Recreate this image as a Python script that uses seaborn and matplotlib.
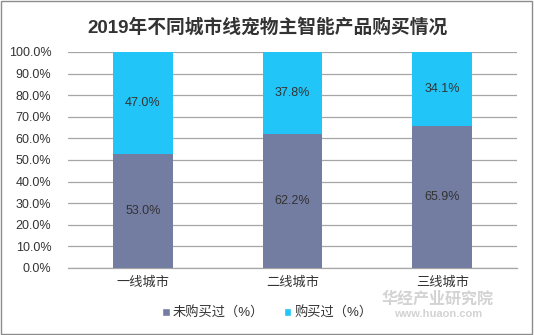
import matplotlib
matplotlib.use("Agg")
import matplotlib.pyplot as plt
import seaborn as sns
import pandas as pd
import numpy as np
from matplotlib.ticker import PercentFormatter
from matplotlib.patches import Patch

categories = ["一线城市", "二线城市", "三线城市"]
not_bought = [53.0, 62.2, 65.9]
bought = [47.0, 37.8, 34.1]
series_names = ["未购买过（%）", "购买过（%）"]
title = "2019年不同城市线宠物主智能产品购买情况"

sns.set_theme(style="white")
plt.rcParams['font.family'] = ['Liberation Sans', 'Noto Sans CJK SC', 'DejaVu Sans']

c_gray = "#737ca1"
c_cyan = "#22c5f7"

fig = plt.figure(figsize=(5.34, 3.35), dpi=100)
ax = fig.add_axes([68/534, 1-268/335, (517-68)/534, (268-52)/335])

totals = [a + b for a, b in zip(not_bought, bought)]
df = pd.DataFrame({"cat": categories, "nb": not_bought, "b": bought, "tot": totals})

sns.barplot(data=df, x="cat", y="tot", color=c_cyan, saturation=1, width=0.4, ax=ax,
            zorder=3, linewidth=0, edgecolor="none")
sns.barplot(data=df, x="cat", y="nb", color=c_gray, saturation=1, width=0.4, ax=ax,
            zorder=3, linewidth=0, edgecolor="none")

for i, (a, b) in enumerate(zip(not_bought, bought)):
    ax.text(i, a / 2, f"{a:.1f}%", ha="center", va="center", fontsize=9, color="#333333", zorder=4)
    ax.text(i, a + b / 2, f"{b:.1f}%", ha="center", va="center", fontsize=9, color="#333333", zorder=4)

ax.set_ylim(0, 100)
ax.set_xlim(-0.5, 2.5)
ax.set_yticks(np.arange(0, 101, 10))
ax.yaxis.set_major_formatter(PercentFormatter(decimals=1))
ax.yaxis.grid(True, color="#a6a6a6", linewidth=0.9, zorder=0)
ax.set_axisbelow(True)
for s in ["top", "right", "left"]:
    ax.spines[s].set_visible(False)
ax.spines["bottom"].set_color("#a6a6a6")
ax.spines["bottom"].set_linewidth(0.9)
ax.set_xlabel("")
ax.set_ylabel("")
ax.tick_params(axis="y", labelsize=9, colors="#333333", length=0, pad=12)
ax.set_xticks([0, 1, 2])
ax.set_xticklabels(categories, fontsize=9.5, color="#333333")
ax.tick_params(axis="x", length=0, pad=6)
ax.set_xticks([-0.5, 0.5, 1.5, 2.5], minor=True)
ax.tick_params(axis="x", which="minor", length=4, color="#a6a6a6", width=0.9, direction="out")

fig.suptitle(title, x=0.5, y=0.945, fontsize=13.5, fontweight="bold", color="#333333")

handles = [Patch(facecolor=c_gray), Patch(facecolor=c_cyan)]
fig.legend(handles, series_names, loc="center", bbox_to_anchor=(0.5, 1-313/335), ncol=2,
           frameon=False, fontsize=9.5, handlelength=0.6, handleheight=0.6,
           handletextpad=0.2, columnspacing=1.5, labelcolor="#333333")

# watermark
fig.text(0.82, 1-299/335, "华经产业研究院", fontsize=11.5, fontweight="bold", color="#c8c8c8",
         ha="center", va="center", alpha=0.8, zorder=0)
fig.text(0.82, 1-314/335, "www.huaon.com", fontsize=8, fontweight="bold", color="#c8c8c8",
         ha="center", va="center", alpha=0.8, zorder=0)

# border
fig.patches.append(plt.Rectangle((0.002, 0.003), 0.994, 0.994, transform=fig.transFigure,
                                 fill=False, edgecolor="#8c8c8c", linewidth=1))

fig.savefig("out.png", dpi=100)
